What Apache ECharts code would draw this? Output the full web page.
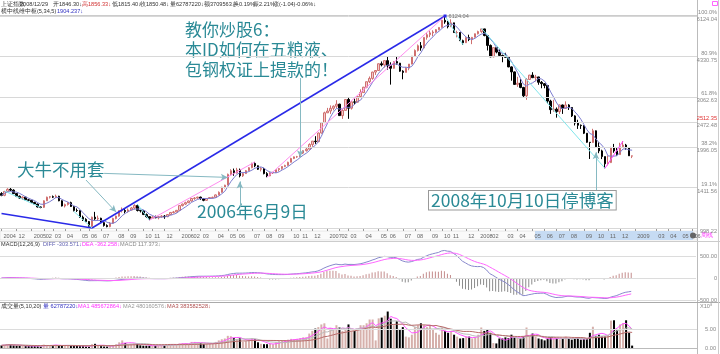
<!DOCTYPE html>
<html>
<head>
<meta charset="utf-8">
<script src="https://cdn.jsdelivr.net/npm/echarts@6/dist/echarts.min.js"></script>
<style>
  html, body { margin: 0; padding: 0; background: #fff; }
  #main { width: 720px; height: 354px; }
</style>
</head>
<body>
<div id="main"></div>
<script>
// 上证指数 周线, 每根K线的日期 = 该周最后交易日
var dates = [
  '2004-10-29','2004-11-05','2004-11-12','2004-11-19','2004-11-26','2004-12-03','2004-12-10','2004-12-17','2004-12-24','2004-12-31',
  '2005-01-07','2005-01-14','2005-01-21','2005-01-28','2005-02-04','2005-02-18','2005-02-25','2005-03-04','2005-03-11','2005-03-18',
  '2005-03-25','2005-04-01','2005-04-08','2005-04-15','2005-04-22','2005-04-29','2005-05-13','2005-05-20','2005-05-27','2005-06-03',
  '2005-06-10','2005-06-17','2005-06-24','2005-07-01','2005-07-08','2005-07-15','2005-07-22','2005-07-29','2005-08-05','2005-08-12',
  '2005-08-19','2005-08-26','2005-09-02','2005-09-09','2005-09-16','2005-09-23','2005-09-30','2005-10-14','2005-10-21','2005-10-28',
  '2005-11-04','2005-11-11','2005-11-18','2005-11-25','2005-12-02','2005-12-09','2005-12-16','2005-12-23','2005-12-30',
  '2006-01-06','2006-01-13','2006-01-20','2006-01-27','2006-02-10','2006-02-17','2006-02-24','2006-03-03','2006-03-10','2006-03-17',
  '2006-03-24','2006-03-31','2006-04-07','2006-04-14','2006-04-21','2006-04-28','2006-05-12','2006-05-19','2006-05-26','2006-06-02',
  '2006-06-09','2006-06-16','2006-06-23','2006-06-30','2006-07-07','2006-07-14','2006-07-21','2006-07-28','2006-08-04','2006-08-11',
  '2006-08-18','2006-08-25','2006-09-01','2006-09-08','2006-09-15','2006-09-22','2006-09-29','2006-10-13','2006-10-20','2006-10-27',
  '2006-11-03','2006-11-10','2006-11-17','2006-11-24','2006-12-01','2006-12-08','2006-12-15','2006-12-22','2006-12-29',
  '2007-01-05','2007-01-12','2007-01-19','2007-01-26','2007-02-02','2007-02-09','2007-02-16','2007-03-02','2007-03-09','2007-03-16',
  '2007-03-23','2007-03-30','2007-04-06','2007-04-13','2007-04-20','2007-04-27','2007-04-30','2007-05-11','2007-05-18','2007-05-25',
  '2007-06-01','2007-06-08','2007-06-15','2007-06-22','2007-06-29','2007-07-06','2007-07-13','2007-07-20','2007-07-27','2007-08-03',
  '2007-08-10','2007-08-17','2007-08-24','2007-08-31','2007-09-07','2007-09-14','2007-09-21','2007-09-28','2007-10-12','2007-10-19',
  '2007-10-26','2007-11-02','2007-11-09','2007-11-16','2007-11-23','2007-11-30','2007-12-07','2007-12-14','2007-12-21','2007-12-28',
  '2008-01-04','2008-01-11','2008-01-18','2008-01-25','2008-02-01','2008-02-05','2008-02-15','2008-02-22','2008-02-29','2008-03-07',
  '2008-03-14','2008-03-21','2008-03-28','2008-04-03','2008-04-11','2008-04-18','2008-04-25','2008-04-30','2008-05-09','2008-05-16',
  '2008-05-23','2008-05-30','2008-06-06','2008-06-13','2008-06-20','2008-06-27','2008-07-04','2008-07-11','2008-07-18','2008-07-25',
  '2008-08-01','2008-08-08','2008-08-15','2008-08-22','2008-08-29','2008-09-05','2008-09-12','2008-09-19','2008-09-26','2008-10-10',
  '2008-10-17','2008-10-24','2008-10-31','2008-11-07','2008-11-14','2008-11-21','2008-11-28','2008-12-05','2008-12-12','2008-12-19',
  '2008-12-26','2008-12-29'
];
// 右侧空白(未来)周
var futureDates = [
  '2009-01-09','2009-01-16','2009-01-23','2009-02-06','2009-02-13','2009-02-20','2009-02-27','2009-03-06','2009-03-13','2009-03-20',
  '2009-03-27','2009-04-03','2009-04-10','2009-04-17','2009-04-24','2009-05-08','2009-05-15','2009-05-22','2009-05-29','2009-06-05','2009-06-12'
];

var opens = [
  1340,1320,1365,1390,1380,1340,1310,1290,1300,1270,
  1266,1242,1225,1195,1191,1260,1300,1305,1300,1310,1260,1205,1220,1240,1200,1160,1159,1095,1075,1055,
  1013,1095,1080,1085,1045,1020,1010,1040,1083,1105,1158,1160,1150,1165,1185,1210,1160,1155,1120,1100,
  1085,1095,1090,1100,1105,1100,1120,1140,1145,
  1161,1209,1225,1240,1258,1285,1290,1300,1285,1265,1285,1295,1298,1325,1355,1415,1440,1580,1630,1600,
  1640,1560,1590,1630,1672,1735,1700,1650,1660,1590,1560,1600,1605,1645,1660,1690,1705,1752,1810,1835,
  1837,1895,1935,1960,2040,2099,2090,2250,2460,
  2675,2716,2780,2830,2880,2612,2730,2998,2782,2937,2930,3075,3180,3330,3490,3590,3790,3841,4070,4030,
  4180,4000,3914,4146,4091,3820,3780,3920,4060,4340,4560,4750,4660,5100,5218,5300,5340,5450,5552,5903,
  5818,5589,5775,5315,5316,4958,4871,5092,5007,5101,
  5261,5361,5484,5180,4761,4320,4672,4497,4370,4348,4300,3962,3796,3411,3446,3323,3094,3558,3693,3613,
  3636,3473,3433,3379,2957,2748,2760,2703,2860,2778,2860,2800,2605,2450,2405,2397,2246,2079,2075,2293,
  2000,1931,1839,1729,1747,1987,1930,1871,2002,2030,1980,1846.30
];
var highs = [
  1356,1370,1403,1405,1390,1345,1318,1310,1305,1280,
  1268,1250,1230,1200,1265,1305,1312,1318,1328,1315,1265,1230,1245,1250,1205,1180,1160,1110,1085,1060,
  1100,1146,1110,1090,1050,1030,1050,1090,1110,1160,1190,1175,1180,1195,1223,1225,1165,1160,1130,1105,
  1105,1110,1105,1115,1115,1125,1145,1155,1165,
  1210,1230,1250,1262,1290,1300,1305,1305,1290,1290,1300,1305,1330,1365,1420,1445,1590,1650,1660,1670,
  1660,1600,1640,1680,1745,1757,1705,1680,1670,1610,1610,1615,1650,1665,1695,1715,1760,1820,1840,1850,
  1900,1940,1980,2060,2100,2190,2260,2470,2700,
  2790,2850,2850,2980,2890,2760,2998,3049,2950,3020,3080,3270,3340,3490,3650,3800,3850,4080,4150,4190,
  4336,4120,4150,4312,4100,3850,3950,4060,4350,4600,4800,4900,5110,5300,5400,5420,5475,5560,5913,6124.04,
  5870,5955,5780,5400,5330,5000,5100,5220,5120,5270,
  5400,5522,5490,5200,4800,4680,4700,4600,4400,4470,4310,3980,3810,3640,3570,3340,3600,3700,3786,3700,
  3640,3510,3450,3385,2990,2990,2800,2870,2870,2950,2880,2810,2620,2520,2420,2400,2250,2082,2333,2300,
  2076,1950,1840,1852,2000,2050,1990,2070,2100,2050,1990,1856.33
];
var lows = [
  1310,1310,1355,1370,1335,1300,1280,1270,1265,1255,
  1235,1218,1189,1182,1185,1258,1285,1290,1290,1255,1200,1190,1210,1195,1150,1145,1090,1060,1050,1010,
  998.22,1070,1060,1040,1010,1004,1005,1035,1075,1100,1140,1130,1140,1160,1170,1150,1140,1115,1090,1067,
  1080,1085,1075,1090,1080,1095,1115,1130,1140,
  1160,1200,1215,1235,1250,1270,1280,1270,1255,1260,1280,1285,1295,1320,1350,1400,1440,1570,1560,1590,
  1540,1545,1585,1625,1665,1680,1640,1620,1580,1541,1555,1585,1600,1620,1645,1680,1700,1750,1800,1820,
  1830,1880,1920,1955,2000,2050,2080,2240,2450,
  2670,2650,2730,2780,2610,2540,2725,2541,2750,2870,2920,3060,3180,3300,3450,3550,3700,3840,3980,3940,
  3870,3404,3900,4040,3800,3563,3780,3850,4050,4330,4520,4550,4650,5000,5110,5150,5300,5420,5550,5730,
  5510,5570,5300,5100,4950,4778,4860,4940,4813,5100,
  5230,5300,5150,4559,4300,4300,4450,4330,4123,4290,3950,3520,3400,3340,3300,3059,2990,3550,3600,3500,
  3400,3300,3300,2900,2650,2700,2566,2650,2650,2770,2740,2580,2400,2330,2330,2230,2070,1802,2070,1991,
  1893,1800,1664,1706,1740,1900,1850,1870,1990,1950,1850,1815.40
];
var closes = [
  1320,1365,1390,1380,1340,1310,1290,1300,1270,1266,
  1242,1225,1195,1191,1260,1300,1305,1300,1310,1260,1205,1220,1240,1200,1160,1159,1095,1075,1055,1013,
  1095,1080,1085,1045,1020,1010,1040,1083,1105,1158,1160,1150,1165,1185,1210,1160,1155,1120,1100,1085,
  1095,1090,1100,1105,1100,1120,1140,1145,1161,
  1209,1225,1240,1258,1285,1290,1300,1285,1265,1285,1295,1298,1325,1355,1415,1440,1580,1630,1600,1640,
  1560,1590,1630,1672,1735,1700,1650,1660,1590,1560,1600,1605,1645,1660,1690,1705,1752,1810,1835,1837,
  1895,1935,1960,2040,2099,2090,2250,2460,2675,
  2716,2780,2830,2880,2612,2730,2998,2782,2937,2930,3075,3180,3330,3490,3590,3790,3841,4070,4030,4180,
  4000,3914,4146,4091,3820,3780,3920,4060,4340,4560,4750,4660,5100,5218,5300,5340,5450,5552,5903,5818,
  5589,5775,5315,5316,4958,4871,5092,5007,5101,5261,
  5361,5484,5180,4761,4320,4672,4497,4370,4348,4300,3962,3796,3411,3446,3323,3094,3558,3693,3613,3636,
  3473,3433,3379,2957,2748,2760,2703,2860,2778,2860,2800,2605,2450,2405,2397,2246,2079,2075,2293,2000,
  1931,1839,1729,1747,1987,1930,1871,2002,2030,1980,1851.52,1850.48
];
// 成交量, 单位 10^8
var volumes = [
  0.7,0.8,1.0,0.9,0.7,0.6,0.6,0.6,0.5,0.5,
  0.5,0.5,0.5,0.4,0.9,0.8,0.7,0.7,0.8,0.6,0.6,0.7,0.7,0.6,0.6,0.6,0.5,0.5,0.4,0.4,
  1.0,1.1,0.6,0.5,0.4,0.4,0.6,0.8,1.0,1.5,2.0,1.3,1.0,1.1,1.2,1.2,0.7,0.6,0.6,0.6,
  0.6,0.6,0.6,0.7,0.7,0.8,1.0,1.0,0.9,
  1.2,1.3,1.3,1.1,1.6,1.6,1.5,1.3,1.0,1.1,1.2,1.3,1.6,2.0,2.3,2.5,3.2,3.1,2.6,2.4,
  2.6,1.6,1.8,2.2,2.6,2.3,1.5,1.1,1.0,1.0,1.1,1.0,1.5,1.8,2.0,2.1,2.2,2.4,2.3,2.4,
  2.6,2.8,2.8,3.8,4.5,5.1,5.5,6.2,6.5,
  2.5,5.3,5.0,6.0,5.4,4.5,4.8,6.2,4.5,4.5,5.0,6.0,6.0,6.5,7.5,7.5,2.0,7.8,8.0,8.5,
  9.6,7.7,6.0,7.0,5.0,5.5,3.0,2.8,3.5,5.5,6.0,6.5,6.0,5.5,6.0,5.0,4.0,3.5,5.3,4.5,
  4.0,4.5,3.5,3.0,2.5,2.6,3.0,3.0,2.5,2.8,
  3.5,5.4,4.5,5.0,4.0,1.3,1.2,2.5,2.5,2.8,2.6,3.5,2.8,2.7,2.5,3.0,5.4,3.0,3.8,3.0,
  2.5,2.3,2.0,2.5,2.8,2.5,2.5,2.3,2.4,3.0,2.5,2.2,2.5,2.8,2.2,2.3,2.3,4.0,5.6,3.2,
  3.5,3.0,3.0,3.5,7.2,7.3,5.0,6.2,6.5,7.3,4.0,0.63
];

// 黄金分割线 (对数刻度)
var fibValues = [6124.04, 4330.75, 3062.63, 2472.48, 1996.05, 1411.56, 998.22];
var fibPercents = ['100.0%', '80.9%', '61.8%', '2512.35', '38.2%', '19.1%', ''];

// 手绘趋势线: [起始日期, 起始价, 结束日期, 结束价, 颜色, 线宽]
var trendLines = [
  ['2004-10-29', 1130, '2005-06-10', 998.22, '#2a2ae8', 1.5],
  ['2005-06-10', 998.22, '2007-10-19', 6124.04, '#2a2ae8', 1.5],
  ['2004-11-05', 1370, '2005-01-28', 1191, '#80e6ec', 1],
  ['2005-04-22', 1150, '2005-06-10', 998.22, '#80e6ec', 1],
  ['2005-09-23', 1225, '2005-10-28', 1067, '#80e6ec', 1],
  ['2005-10-28', 1067, '2006-07-14', 1757, '#ff8cf0', 1],
  ['2006-08-11', 1541, '2007-10-19', 6124.04, '#ff8cf0', 1],
  ['2007-10-19', 6124.04, '2007-11-30', 4778, '#80e6ec', 1],
  ['2008-01-11', 5522, '2008-10-31', 1664, '#80e6ec', 1],
  ['2008-10-31', 1664, '2008-12-12', 2100, '#ff44ff', 1]
];
// 文字说明的箭头: [起始日期, 起始价, 指向日期, 指向价]
var arrows = [
  ['2005-05-27', 1505, '2005-08-05', 1144],
  ['2005-07-08', 1593, '2006-05-12', 1539],
  ['2006-11-03', 3600, '2006-11-03', 1827],
  ['2006-06-09', 1197, '2006-06-09', 1487],
  ['2008-10-10', 1381, '2008-10-10', 1908]
];

var allDates = dates.concat(futureDates);
var ohlc = dates.map(function (d, i) { return [opens[i], closes[i], lows[i], highs[i]]; });

function ma(arr, n) {
  return arr.map(function (v, i) {
    var s = 0, c = 0;
    for (var k = Math.max(0, i - n + 1); k <= i; k++) { s += arr[k]; c++; }
    return +(s / c).toFixed(2);
  });
}
function ema(arr, n) {
  var out = [], prev = arr[0];
  arr.forEach(function (v) { prev = (2 * v + (n - 1) * prev) / (n + 1); out.push(prev); });
  return out;
}
var ma5 = ma(closes, 5);
var e12 = ema(closes, 12), e26 = ema(closes, 26);
var diff = e12.map(function (v, i) { return +(v - e26[i]).toFixed(3); });
var dea = ema(diff, 9).map(function (v) { return +v.toFixed(3); });
var macd = diff.map(function (v, i) {
  var m = +(2 * (v - dea[i])).toFixed(3);
  return { value: m, itemStyle: { color: m >= 0 ? '#c48c8c' : '#8c8c8c' } };
});
// 量柱颜色按收盘与上一周收盘比较
var volData = volumes.map(function (v, i) {
  var ref = i === 0 ? opens[0] : closes[i - 1];
  return { value: v, itemStyle: { color: closes[i] >= ref ? '#d6b0ab' : '#000' } };
});
var volMa1 = ma(volumes, 5), volMa2 = ma(volumes, 10), volMa3 = ma(volumes, 20);

// 月份刻度: 每月第一根, 与前一个标签挤在一起的省略
function monthLabel(v, i) {
  if (i === 0 || v.slice(5, 7) === '01') return v.slice(0, 4);
  return v.slice(5, 7);
}
var slotW = 697 / allDates.length;
var labelIdx = {}, lastEnd = -99;
allDates.forEach(function (d, i) {
  if (i > 0 && d.slice(0, 7) === allDates[i - 1].slice(0, 7)) return;
  var x0 = (i + 0.5) * slotW + 2;
  if (x0 < lastEnd) return;
  labelIdx[i] = true;
  lastEnd = x0 + monthLabel(d, i).length * 2.8;
});

var teal = '#2b8a96';
var tiny = 5.6;
var sans = 'Liberation Sans, Arial, sans-serif';

var lineData = trendLines.map(function (t) {
  return [
    { coord: [t[0], t[1]], lineStyle: { color: t[4], width: t[5], type: 'solid' }, symbol: 'none' },
    { coord: [t[2], t[3]], symbol: 'none' }
  ];
}).concat(arrows.map(function (a) {
  return [
    { coord: [a[0], a[1]], lineStyle: { color: '#86b9c2', width: 1, type: 'solid' }, symbol: 'none' },
    { coord: [a[2], a[3]], symbol: 'arrow', symbolSize: [5, 7] }
  ];
}));

function txt(x, y, s, color) {
  return { type: 'text', left: x, top: y, style: { text: s, fill: color || '#333', fontSize: tiny, fontFamily: sans } };
}

var chart = echarts.init(document.getElementById('main'));
var option = {
  animation: false,
  backgroundColor: '#fff',
  grid: [
    { left: 0, right: 23, top: 16, height: 212 },
    { left: 0, right: 23, top: 248, height: 52 },
    { left: 0, right: 23, top: 304, height: 44 }
  ],
  xAxis: [
    {
      type: 'category', gridIndex: 0, data: allDates, boundaryGap: true,
      axisLine: { lineStyle: { color: '#bbb' } },
      axisTick: { show: true, alignWithLabel: true, interval: function (i) { return !!labelIdx[i]; }, length: 3, lineStyle: { color: '#999' } },
      axisLabel: {
        interval: function (i) { return !!labelIdx[i]; }, formatter: monthLabel,
        color: '#666', fontSize: tiny, fontFamily: sans, align: 'left', margin: 5, padding: [0, 0, 0, 2]
      },
      splitLine: { show: false }
    },
    { type: 'category', gridIndex: 1, data: allDates, axisLine: { show: false }, axisTick: { show: false }, axisLabel: { show: false } },
    { type: 'category', gridIndex: 2, data: allDates, axisLine: { lineStyle: { color: '#bbb' } }, axisTick: { show: false }, axisLabel: { show: false } }
  ],
  yAxis: [
    { type: 'log', gridIndex: 0, min: 998.22, max: 6124.04, logBase: 10, show: false, splitLine: { show: false } },
    {
      type: 'value', gridIndex: 1, min: -500, max: 682, interval: 500, position: 'right',
      axisLine: { show: false }, axisTick: { show: false }, splitLine: { show: false },
      axisLabel: { showMaxLabel: false, align: 'right', margin: 21, color: '#888', fontSize: tiny, fontFamily: sans,
        formatter: function (v) { return v === 0 ? '0' : (v === 500 ? '500.00' : (v === -500 ? '-500.00' : '')); } }
    },
    {
      type: 'value', gridIndex: 2, min: 0, max: 11.58, interval: 5, position: 'right',
      axisLine: { show: false }, axisTick: { show: false }, splitLine: { show: false },
      axisLabel: { showMaxLabel: false, align: 'right', margin: 19, color: '#888', fontSize: tiny, fontFamily: sans,
        formatter: function (v) { return v === 0 ? '0.00' : (v === 5 ? '5.00' : ''); } }
    }
  ],
  series: [
    {
      type: 'candlestick', xAxisIndex: 0, yAxisIndex: 0, data: ohlc, barWidth: 2,
      itemStyle: { color: '#f2cccc', color0: '#000', borderColor: '#cf6f6f', borderColor0: '#000', borderWidth: 1 },
      markLine: {
        silent: true, animation: false, symbol: ['none', 'none'], label: { show: false },
        emphasis: { disabled: true },
        data: fibValues.map(function (v) { return { yAxis: v, lineStyle: { color: '#d8d8d8', width: 1, type: 'solid' } }; })
          .concat(lineData)
      },
      markPoint: {
        silent: true, animation: false,
        data: [{ coord: ['2007-10-19', 6124.04], symbol: 'rect', symbolSize: 3, itemStyle: { color: '#2a2ae8' },
          label: { show: true, position: 'right', distance: 2, formatter: '6124.04', color: '#777', fontSize: tiny } }]
      }
    },
    { type: 'line', xAxisIndex: 0, yAxisIndex: 0, data: ma5, showSymbol: false, lineStyle: { color: '#7c7cd0', width: 1 } },
    { type: 'bar', xAxisIndex: 1, yAxisIndex: 1, data: macd, barWidth: 1,
      markLine: { silent: true, symbol: ['none', 'none'], label: { show: false },
        data: [500, 0, -500].map(function (v) { return { yAxis: v, lineStyle: { color: '#dcdcdc', width: 1, type: 'solid' } }; }) } },
    { type: 'line', xAxisIndex: 1, yAxisIndex: 1, data: diff, showSymbol: false, lineStyle: { color: '#8888cc', width: 1 } },
    { type: 'line', xAxisIndex: 1, yAxisIndex: 1, data: dea, showSymbol: false, lineStyle: { color: '#ff66ff', width: 1 } },
    { type: 'bar', xAxisIndex: 2, yAxisIndex: 2, data: volData, barWidth: 2,
      markLine: { silent: true, symbol: ['none', 'none'], label: { show: false },
        data: [{ yAxis: 5, lineStyle: { color: '#dcdcdc', width: 1, type: 'solid' } }] } },
    { type: 'line', xAxisIndex: 2, yAxisIndex: 2, data: volMa1, showSymbol: false, lineStyle: { color: '#ff55ff', width: 1 } },
    { type: 'line', xAxisIndex: 2, yAxisIndex: 2, data: volMa2, showSymbol: false, lineStyle: { color: '#bbbbbb', width: 1 } },
    { type: 'line', xAxisIndex: 2, yAxisIndex: 2, data: volMa3, showSymbol: false, lineStyle: { color: '#b86a6a', width: 1 } }
  ],
  graphic: [
    // 框线
    { type: 'line', z: 0, shape: { x1: 697.5, y1: 0, x2: 697.5, y2: 354 }, style: { stroke: '#bbb', lineWidth: 1 } },
    { type: 'line', z: 0, shape: { x1: 0, y1: 15.5, x2: 697, y2: 15.5 }, style: { stroke: '#ccc', lineWidth: 1 } },
    { type: 'line', z: 0, shape: { x1: 0, y1: 241.5, x2: 720, y2: 241.5 }, style: { stroke: '#ccc', lineWidth: 1 } },
    { type: 'line', z: 0, shape: { x1: 0, y1: 302.5, x2: 720, y2: 302.5 }, style: { stroke: '#aaa', lineWidth: 1 } },
    { type: 'line', z: 0, shape: { x1: 718.5, y1: 0, x2: 718.5, y2: 354 }, style: { stroke: '#ccc', lineWidth: 1 } },
    { type: 'rect', z: -1, shape: { x: 0, y: 231, width: 697, height: 9 }, style: { fill: '#fafafa', stroke: '#d0d0d0', lineWidth: 0.5 } },
    { type: 'rect', z: -1, shape: { x: 535, y: 231, width: 158, height: 9 }, style: { fill: '#c6dbf3' } },
    { type: 'circle', shape: { cx: 693, cy: 235.5, r: 3 }, style: { fill: '#666' } },
    { type: 'text', left: 701, top: 232, style: { text: '周线', fill: '#ff33ff', fontSize: 6 } },
    { type: 'rect', shape: { x: 712.5, y: 1.5, width: 5, height: 4 }, style: { fill: '#fff', stroke: '#ff66ff', lineWidth: 1 } },
    // 顶部行情
    txt(1, 1, '上证指数'), txt(20, 1, '2008/12/29'), txt(53, 1, '开1846.30↓'), txt(82, 1, '高1856.33↓', '#d03030'),
    txt(112, 1, '低1815.40↓'), txt(140, 1, '收1850.48↓'), txt(170, 1, '量62787220↓'), txt(204, 1, '额3709563↓'),
    txt(233, 1, '换0.19%'), txt(253, 1, '振2.21%'), txt(273, 1, '涨(-1.04)-0.06%↓'),
    txt(1, 8, '横中线维中枢(5,34,5)'), txt(57, 8, '1904.237↓', '#3030c0'),
    // MACD 标题
    txt(1, 241.5, 'MACD(12,26,9)'), txt(43, 241.5, 'DIFF -303.571↓', '#6060b0'),
    txt(82, 241.5, 'DEA -362.258↓', '#ff33ff'), txt(120, 241.5, 'MACD 117.373↓', '#888'),
    // 成交量 标题
    txt(1, 303.5, '成交量(5,10,20)'), txt(43, 303.5, '量 62787220↓', '#3030c0'),
    txt(78, 303.5, 'MA1 485672864↓', '#ff33ff'), txt(123, 303.5, 'MA2 480160576↓', '#999'),
    txt(167, 303.5, 'MA3 383582528↓', '#b05050'), txt(700, 303.5, 'X10⁸', '#888'),
    // 图中说明文字
    { type: 'text', left: 185, top: 20, style: { text: '教你炒股6：\n本ID如何在五粮液、\n包钢权证上提款的！', fill: teal, fontSize: 17, lineHeight: 20, fontFamily: 'Noto Sans CJK SC' } },
    { type: 'text', left: 17, top: 161, style: { text: '大牛不用套', fill: teal, fontSize: 17.5, fontFamily: 'Noto Sans CJK SC' } },
    { type: 'text', left: 197, top: 203, style: { text: '2006年6月9日', fill: teal, fontSize: 17.5, fontFamily: 'Noto Sans CJK SC' } },
    { type: 'text', left: 428, top: 190, style: { text: '2008年10月10日停博客', fill: teal, fontSize: 17.5, fontFamily: 'Noto Sans CJK SC',
      backgroundColor: '#fff', borderColor: '#999', borderWidth: 1, padding: [1, 2, 0, 2] } }
  ]
};
chart.setOption(option);

// 黄金分割标注 (按对数刻度换算位置)
var fibGraphics = [];
fibValues.forEach(function (v, i) {
  var y = chart.convertToPixel({ yAxisIndex: 0 }, v);
  fibGraphics.push({ type: 'text', x: 717, y: y - 0.5, style: { text: fibPercents[i], fill: i === 3 ? '#e03030' : '#888', fontSize: tiny,
    align: 'right', verticalAlign: 'bottom', fontFamily: sans } });
  fibGraphics.push({ type: 'text', x: 717, y: y + 0.5, style: { text: v.toFixed(2), fill: '#888', fontSize: tiny,
    align: 'right', verticalAlign: 'top', fontFamily: sans } });
});
chart.setOption({ graphic: option.graphic.concat(fibGraphics) });
</script>
</body>
</html>
